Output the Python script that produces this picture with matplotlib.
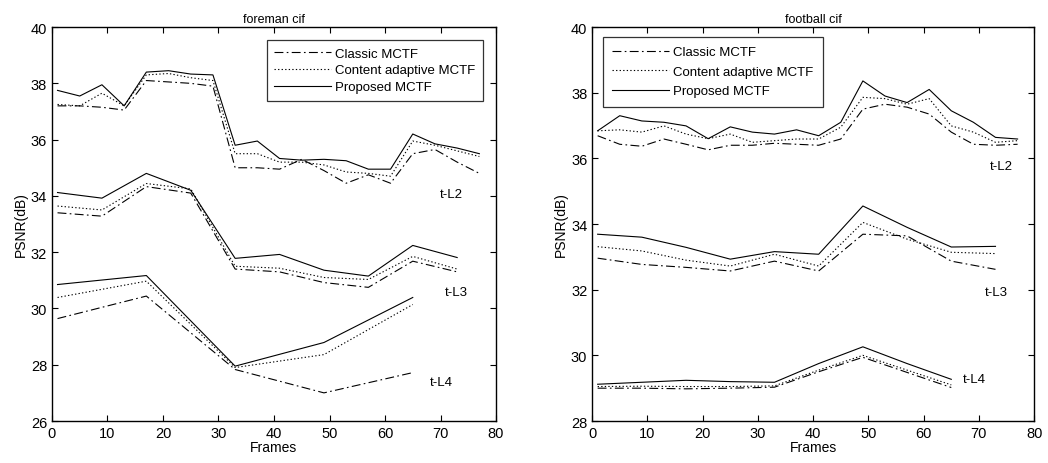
import matplotlib.pyplot as plt
import numpy as np

plt.rcParams['font.family'] = ['Liberation Sans', 'DejaVu Sans']

# frame positions
frames_l2 = np.arange(1, 78, 4)
frames_l3 = np.arange(1, 74, 8)
frames_l4_fore = np.arange(1, 66, 16)
frames_l4_foot = np.arange(1, 66, 8)

# foreman cif
fore_classic_l2 = [37.2, 37.2, 37.15, 37.05, 38.1, 38.05, 38.0, 37.9, 35.0, 35.0,
                   34.95, 35.3, 34.9, 34.45, 34.75, 34.45, 35.5, 35.65, 35.2, 34.8]
fore_content_l2 = [37.25, 37.2, 37.65, 37.2, 38.3, 38.35, 38.2, 38.1, 35.5, 35.5,
                   35.2, 35.2, 35.1, 34.85, 34.8, 34.7, 35.95, 35.8, 35.6, 35.4]
fore_proposed_l2 = [37.75, 37.55, 37.95, 37.2, 38.4, 38.45, 38.33, 38.3, 35.8, 35.95,
                    35.33, 35.27, 35.3, 35.25, 34.95, 34.95, 36.2, 35.85, 35.7, 35.5]
fore_classic_l3 = [33.4, 33.28, 34.33, 34.1, 31.4, 31.3, 30.92, 30.75, 31.68, 31.3]
fore_content_l3 = [33.64, 33.5, 34.44, 34.25, 31.5, 31.43, 31.1, 31.03, 31.85, 31.4]
fore_proposed_l3 = [34.12, 33.92, 34.8, 34.2, 31.78, 31.92, 31.36, 31.15, 32.24, 31.81]
fore_classic_l4 = [29.64, 30.44, 27.83, 27.0, 27.72]
fore_content_l4 = [30.39, 30.97, 27.9, 28.36, 30.14]
fore_proposed_l4 = [30.85, 31.17, 27.95, 28.79, 30.39]

# football cif
foot_classic_l2 = [36.69, 36.43, 36.37, 36.59, 36.43, 36.26, 36.4, 36.4, 36.46, 36.43,
                   36.4, 36.59, 37.5, 37.65, 37.56, 37.35, 36.8, 36.43, 36.4, 36.43]
foot_content_l2 = [36.84, 36.87, 36.8, 36.99, 36.74, 36.6, 36.74, 36.49, 36.54, 36.59,
                   36.59, 36.95, 37.86, 37.82, 37.65, 37.82, 36.99, 36.8, 36.49, 36.54]
foot_proposed_l2 = [36.84, 37.3, 37.14, 37.1, 36.99, 36.6, 36.96, 36.8, 36.74, 36.87,
                    36.69, 37.1, 38.36, 37.9, 37.7, 38.1, 37.45, 37.1, 36.64, 36.59]
foot_classic_l3 = [32.96, 32.77, 32.68, 32.57, 32.87, 32.57, 33.69, 33.64, 32.87, 32.62]
foot_content_l3 = [33.31, 33.18, 32.9, 32.72, 33.08, 32.72, 34.05, 33.54, 33.14, 33.1]
foot_proposed_l3 = [33.69, 33.6, 33.29, 32.93, 33.16, 33.08, 34.55, 33.9, 33.3, 33.32]
foot_classic_l4 = [29.0, 29.0, 28.98, 29.0, 29.03, 29.5, 29.94, 29.48, 29.02]
foot_content_l4 = [29.05, 29.06, 29.05, 29.05, 29.07, 29.55, 30.0, 29.55, 29.1]
foot_proposed_l4 = [29.12, 29.18, 29.24, 29.2, 29.18, 29.75, 30.26, 29.75, 29.27]

labels = ['Classic MCTF', 'Content adaptive MCTF', 'Proposed MCTF']
styles = [(0, (8, 3, 1.5, 3)), (0, (1.2, 2)), '-']

fig = plt.figure(figsize=(10.48, 4.64), dpi=100)
ax1 = fig.add_axes([0.0496, 0.0905, 0.4237, 0.849])
ax2 = fig.add_axes([0.565, 0.0905, 0.4218, 0.849])


def draw(ax, groups):
    for xs, series in groups:
        for i, ys in enumerate(series):
            ax.plot(xs, ys, color='black', lw=0.8, linestyle=styles[i],
                    label=labels[i] if xs is groups[0][0] else None)


draw(ax1, [(frames_l2, [fore_classic_l2, fore_content_l2, fore_proposed_l2]),
           (frames_l3, [fore_classic_l3, fore_content_l3, fore_proposed_l3]),
           (frames_l4_fore, [fore_classic_l4, fore_content_l4, fore_proposed_l4])])
draw(ax2, [(frames_l2, [foot_classic_l2, foot_content_l2, foot_proposed_l2]),
           (frames_l3, [foot_classic_l3, foot_content_l3, foot_proposed_l3]),
           (frames_l4_foot, [foot_classic_l4, foot_content_l4, foot_proposed_l4])])

ax1.set_ylim(26, 40)
ax1.set_yticks(np.arange(26, 41, 2))
ax2.set_ylim(28, 40)
ax2.set_yticks(np.arange(28, 41, 2))

for ax, title in [(ax1, 'foreman cif'), (ax2, 'football cif')]:
    ax.set_xlim(0, 80)
    ax.set_xticks(np.arange(0, 81, 10))
    ax.tick_params(direction='in', top=True, right=True, labelsize=10.5, length=4)
    ax.set_title(title, fontsize=9, pad=4)
    ax.set_xlabel('Frames', fontsize=10, labelpad=0)
    ax.set_ylabel('PSNR(dB)', fontsize=10, labelpad=2)
    for s in ax.spines.values():
        s.set_linewidth(1.0)

ax1.text(69.9, 34.06, 't-L2', fontsize=9.5, va='center')
ax1.text(70.8, 30.6, 't-L3', fontsize=9.5, va='center')
ax1.text(68.1, 27.37, 't-L4', fontsize=9.5, va='center')
ax2.text(72, 35.76, 't-L2', fontsize=9.5, va='center')
ax2.text(71.1, 31.92, 't-L3', fontsize=9.5, va='center')
ax2.text(67.1, 29.27, 't-L4', fontsize=9.5, va='center')

leg_kw = dict(fontsize=9.5, frameon=True, fancybox=False, edgecolor='black',
              handlelength=4.3, handletextpad=0.3, borderaxespad=0)
l1 = ax1.legend(loc='upper right', bbox_to_anchor=(0.97, 0.967),
                borderpad=0.55, labelspacing=0.35, **leg_kw)
l2 = ax2.legend(loc='upper left', bbox_to_anchor=(0.025, 0.975),
                borderpad=0.7, labelspacing=0.55, **leg_kw)
for lg in (l1, l2):
    lg.get_frame().set_linewidth(0.9)

fig.savefig('out.png', dpi=100)
